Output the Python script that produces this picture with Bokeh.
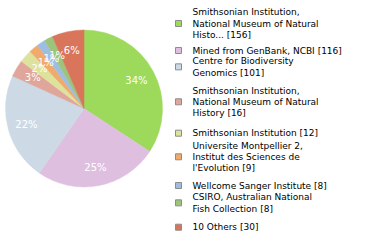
import math
from bokeh.plotting import figure
from bokeh.models import Range1d, ColumnDataSource
from bokeh.core.properties import value
from bokeh.embed import file_html
from bokeh.resources import INLINE

# ---- data ----
labels = [
    "Smithsonian Institution,\nNational Museum of Natural\nHisto... [156]",
    "Mined from GenBank, NCBI [116]",
    "Centre for Biodiversity\nGenomics [101]",
    "Smithsonian Institution,\nNational Museum of Natural\nHistory [16]",
    "Smithsonian Institution [12]",
    "Universite Montpellier 2,\nInstitut des Sciences de\nl'Evolution [9]",
    "Wellcome Sanger Institute [8]",
    "CSIRO, Australian National\nFish Collection [8]",
    "10 Others [30]",
]
counts = [156, 116, 101, 16, 12, 9, 8, 8, 30]
colors = ["#9dd95b", "#dfbfe0", "#cddae6", "#e0a59b", "#dde29c",
          "#f0aa6c", "#9dbee2", "#9cc47a", "#d8755a"]

# ---- layout ----
W, H = 380, 240
CX, CY, R = 83.5, 108.0, 78.5
LABEL_R = 0.76
FIRST_LINE_Y = [11.7, 50.0, 60.7, 90.0, 132.7, 145.0, 185.0, 196.7, 226.7]
LINE_PITCH = 11.3
SQ_X = 178.0
TXT_X = 192.0

p = figure(width=W, height=H, x_range=Range1d(0, W), y_range=Range1d(0, H),
           output_backend="svg", toolbar_location=None, min_border=0)
p.axis.visible = False
p.grid.visible = False
p.outline_line_color = None
p.background_fill_color = "white"

total = float(sum(counts))
starts, ends, mids, pct = [], [], [], []
cum = 0.0
for c in counts:
    a0 = math.pi / 2 - 2 * math.pi * cum / total
    cum += c
    a1 = math.pi / 2 - 2 * math.pi * cum / total
    starts.append(a0)
    ends.append(a1)
    mids.append((a0 + a1) / 2)
    pct.append("%d%%" % int(math.floor(100.0 * c / total)))

wsrc = ColumnDataSource(dict(start=starts, end=ends, color=colors,
                             x=[CX] * len(counts), y=[H - CY] * len(counts)))
p.wedge(x="x", y="y", radius=R, radius_units="screen", start_angle="start",
        end_angle="end", direction="clock", fill_color="color",
        line_color="color", line_width=0.5, source=wsrc)

lx = [CX + LABEL_R * R * math.cos(m) for m in mids]
ly = [H - CY + LABEL_R * R * math.sin(m) for m in mids]
p.text(x=lx, y=ly, text=pct, text_color="white", text_align="center",
       text_baseline="middle", text_font=value("DejaVu Sans"),
       text_font_size="10px")

# legend
tx, ty, tt, sqy = [], [], [], []
for lab, y0 in zip(labels, FIRST_LINE_Y):
    lines = lab.split("\n")
    for i, ln in enumerate(lines):
        tx.append(TXT_X)
        ty.append(H - (y0 + i * LINE_PITCH))
        tt.append(ln)
    sqy.append(H - (y0 + (len(lines) - 1) * LINE_PITCH / 2.0))

p.rect(x=[SQ_X] * len(sqy), y=sqy, width=6, height=6, width_units="screen",
       height_units="screen", fill_color=colors, line_color="#8c8c8c",
       line_width=1)
p.text(x=tx, y=ty, text=tt, text_color="#000000", text_align="left",
       text_baseline="middle", text_font=value("DejaVu Sans"),
       text_font_size="9px")

open("out.html", "w").write(file_html(p, INLINE))
